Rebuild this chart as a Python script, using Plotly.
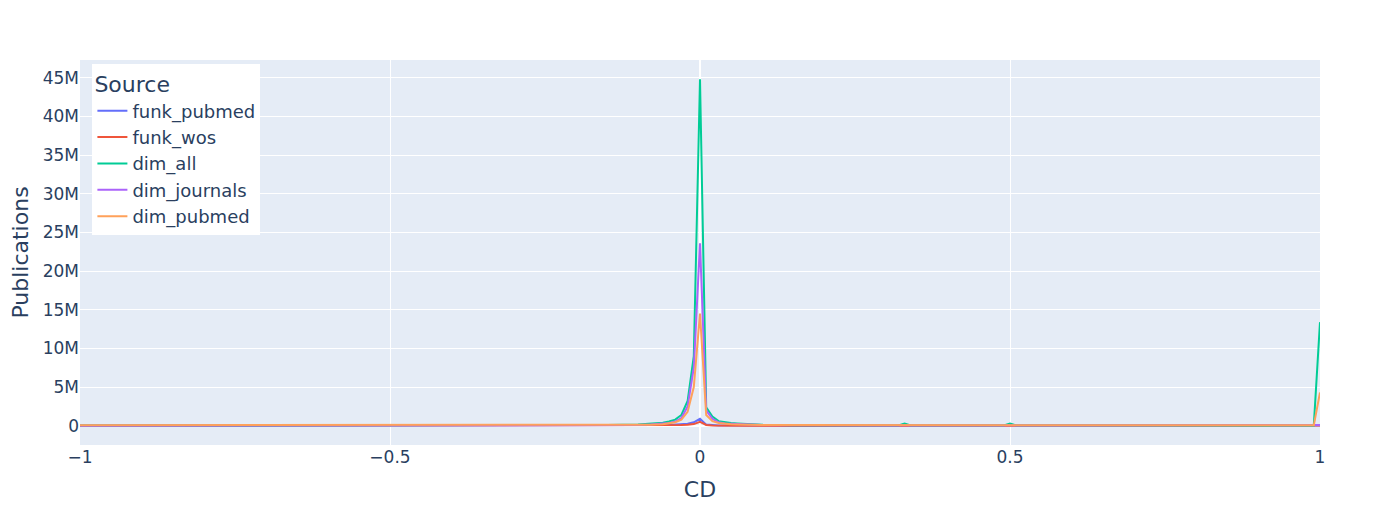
import plotly.graph_objects as go

cd = [-1.0, -0.9, -0.8, -0.7, -0.6, -0.5, -0.4, -0.3, -0.2, -0.15, -0.1, -0.08, -0.06, -0.05,
      -0.04, -0.03, -0.02, -0.01, 0.0, 0.01, 0.02, 0.03, 0.04, 0.05, 0.06, 0.08, 0.1, 0.15,
      0.2, 0.3, 0.32, 0.33, 0.34, 0.4, 0.49, 0.5, 0.51, 0.6, 0.7, 0.8, 0.9, 0.99, 1.0]

# values in millions of publications
funk_pubmed = [0.005, 0.005, 0.005, 0.005, 0.006, 0.008, 0.008, 0.01, 0.02, 0.03, 0.05, 0.07, 0.09, 0.11,
               0.14, 0.19, 0.27, 0.45, 0.9, 0.15, 0.08, 0.05, 0.04, 0.03, 0.03, 0.02, 0.02, 0.01,
               0.01, 0.01, 0.01, 0.02, 0.01, 0.01, 0.01, 0.02, 0.01, 0.005, 0.005, 0.005, 0.005, 0.005, 0.05]
funk_wos = [0.003, 0.003, 0.003, 0.003, 0.004, 0.005, 0.005, 0.006, 0.01, 0.015, 0.025, 0.035, 0.05, 0.06,
            0.08, 0.1, 0.14, 0.22, 0.5, 0.1, 0.05, 0.03, 0.02, 0.02, 0.015, 0.01, 0.01, 0.008,
            0.006, 0.005, 0.005, 0.01, 0.005, 0.004, 0.004, 0.01, 0.004, 0.003, 0.003, 0.003, 0.003, 0.003, 0.03]
dim_all = [0.02, 0.02, 0.02, 0.02, 0.03, 0.05, 0.04, 0.05, 0.08, 0.1, 0.18, 0.25, 0.4, 0.55,
           0.8, 1.4, 3.2, 9.0, 44.8, 2.4, 1.2, 0.6, 0.45, 0.35, 0.3, 0.2, 0.14, 0.08,
           0.07, 0.05, 0.05, 0.3, 0.05, 0.04, 0.04, 0.3, 0.04, 0.03, 0.03, 0.03, 0.03, 0.05, 13.4]
dim_journals = [0.01, 0.01, 0.01, 0.01, 0.01, 0.02, 0.02, 0.03, 0.05, 0.07, 0.1, 0.15, 0.25, 0.35,
                0.55, 1.0, 2.5, 7.5, 23.6, 2.0, 0.9, 0.45, 0.3, 0.25, 0.2, 0.15, 0.1, 0.06,
                0.04, 0.03, 0.03, 0.1, 0.03, 0.02, 0.02, 0.1, 0.02, 0.02, 0.02, 0.02, 0.02, 0.02, 0.1]
dim_pubmed = [0.08, 0.08, 0.08, 0.08, 0.08, 0.09, 0.09, 0.09, 0.1, 0.1, 0.12, 0.14, 0.2, 0.3,
              0.45, 0.8, 1.8, 5.0, 14.5, 1.4, 0.6, 0.35, 0.25, 0.2, 0.17, 0.13, 0.1, 0.09,
              0.08, 0.08, 0.08, 0.12, 0.08, 0.08, 0.08, 0.12, 0.08, 0.08, 0.08, 0.08, 0.08, 0.08, 4.3]

series_names = ["funk_pubmed", "funk_wos", "dim_all", "dim_journals", "dim_pubmed"]
series_values = [funk_pubmed, funk_wos, dim_all, dim_journals, dim_pubmed]
colors = ["#636efa", "#EF553B", "#00cc96", "#ab63fa", "#FFA15A"]

fig = go.Figure()
for name, vals, col in zip(series_names, series_values, colors):
    fig.add_trace(go.Scatter(
        x=cd, y=[v * 1e6 for v in vals], mode="lines", name=name,
        line=dict(color=col, width=2),
    ))

fig.update_layout(
    template="plotly",
    width=1384, height=509,
    margin=dict(l=72, r=72, t=52, b=72),
    font=dict(family="Verdana, DejaVu Sans, sans-serif", size=17, color="#2a3f5f"),
    legend=dict(
        title=dict(text="Source", font=dict(size=22)),
        x=0.01, y=0.99, xanchor="left", yanchor="top",
        bgcolor="white", font=dict(size=18),
    ),
    xaxis=dict(title=dict(text="CD", font=dict(size=22)), range=[-1, 1], automargin=False),
    yaxis=dict(title=dict(text="Publications", font=dict(size=22), standoff=16), automargin=False),
)

fig.write_html("out.html")
